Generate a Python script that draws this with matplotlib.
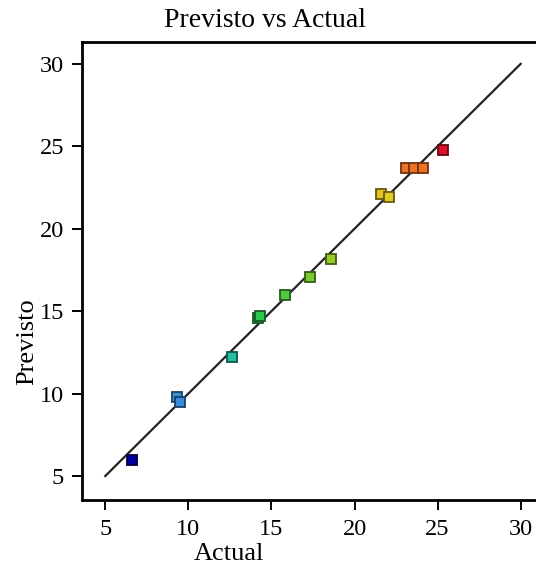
import matplotlib
matplotlib.use("Agg")
import matplotlib.pyplot as plt
import numpy as np
from matplotlib.colors import LinearSegmentedColormap, Normalize

# values
actual = [6.6, 9.3, 9.5, 12.6, 14.2, 14.3, 15.8, 17.35, 18.6, 21.6, 22.1, 23.1, 23.6, 24.1, 25.3]
predicted = [6.0, 9.8, 9.5, 12.2, 14.6, 14.7, 15.95, 17.1, 18.15, 22.1, 21.95, 23.7, 23.7, 23.7, 24.75]
ticks = [5, 10, 15, 20, 25, 30]

plt.rcParams['font.family'] = ['Liberation Serif', 'DejaVu Serif']

cmap = LinearSegmentedColormap.from_list("de", [
    (0.0, '#00009a'), (0.19, '#3a90e0'), (0.33, '#22c0a0'), (0.48, '#2ec84a'),
    (0.62, '#8ccc2a'), (0.85, '#e0cc20'), (0.94, '#f07a20'), (1.0, '#e0102a')])
norm = Normalize(min(predicted), max(predicted))

fig = plt.figure(figsize=(5.36, 5.72), dpi=100)
ax = fig.add_axes([0.153, 0.126, 0.868, 0.8007])

ax.plot([5, 30], [5, 30], color='#222222', lw=1.6, zorder=2)

for a, p in zip(actual, predicted):
    c = np.array(cmap(norm(p)))
    edge = c.copy()
    edge[:3] = edge[:3] * 0.45
    ax.plot(a, p, 's', ms=7, mfc=c, mec=edge, mew=1.3, zorder=3)

ax.set_xlim(3.6, 31.6)
ax.set_ylim(3.55, 31.33)
ax.set_xticks(ticks)
ax.set_yticks(ticks)
ax.tick_params(direction='out', length=7, width=1.4, labelsize=17.5, colors='black')
ax.tick_params(axis='x', pad=7)
ax.tick_params(axis='y', pad=6)
for s in ax.spines.values():
    s.set_linewidth(2)
ax.spines['right'].set_visible(False)

ax.set_xlabel("Actual", fontsize=19)
ax.xaxis.set_label_coords(0.315, -0.093)
ax.set_ylabel("Previsto", fontsize=19)
ax.yaxis.set_label_coords(-0.095, 0.345)

fig.text(0.494, 0.965, "Previsto vs Actual", fontsize=20, ha='center', va='center')

fig.savefig("out.png", dpi=100)
